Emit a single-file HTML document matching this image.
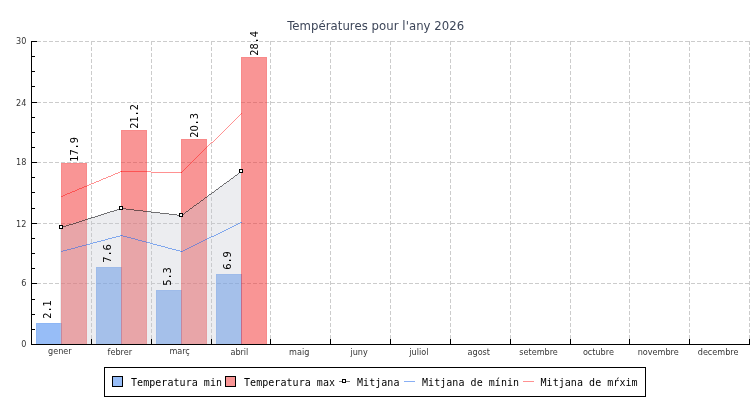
<!DOCTYPE html><html><head><meta charset="utf-8"><title>Temperatures</title><style>
html,body{margin:0;padding:0;background:#fff;}
body{width:750px;height:400px;overflow:hidden;}
svg{display:block;will-change:transform;}
.t{font-family:"DejaVu Sans Condensed","DejaVu Sans",sans-serif;font-stretch:condensed;}
.m{font-family:"DejaVu Sans Mono","Liberation Mono",monospace;}
</style></head><body>
<svg width="750" height="400" viewBox="0 0 750 400">
<rect x="0" y="0" width="750" height="400" fill="#fff"/>
<text class="t" x="375.8" y="29.6" text-anchor="middle" font-size="13" letter-spacing="0.05" fill="#3d4659">Températures pour l'any 2026</text>
<g shape-rendering="crispEdges" stroke="#cccccc" stroke-width="1" stroke-dasharray="4 2" fill="none">
<line x1="31" y1="41.5" x2="750" y2="41.5"/>
<line x1="31" y1="102.5" x2="750" y2="102.5"/>
<line x1="31" y1="162.5" x2="750" y2="162.5"/>
<line x1="31" y1="223.5" x2="750" y2="223.5"/>
<line x1="31" y1="283.5" x2="750" y2="283.5"/>
<line x1="91.5" y1="41" x2="91.5" y2="344"/>
<line x1="151.5" y1="41" x2="151.5" y2="344"/>
<line x1="211.5" y1="41" x2="211.5" y2="344"/>
<line x1="270.5" y1="41" x2="270.5" y2="344"/>
<line x1="330.5" y1="41" x2="330.5" y2="344"/>
<line x1="390.5" y1="41" x2="390.5" y2="344"/>
<line x1="450.5" y1="41" x2="450.5" y2="344"/>
<line x1="510.5" y1="41" x2="510.5" y2="344"/>
<line x1="570.5" y1="41" x2="570.5" y2="344"/>
<line x1="629.5" y1="41" x2="629.5" y2="344"/>
<line x1="689.5" y1="41" x2="689.5" y2="344"/>
<line x1="749.5" y1="41" x2="749.5" y2="344"/>
</g>
<g shape-rendering="crispEdges">
<rect x="36" y="323" width="26" height="21" fill="rgba(55,128,240,0.52)"/>
<rect x="36.5" y="323.5" width="25" height="21" fill="none" stroke="rgba(55,128,240,0.1)"/>
<rect x="61" y="163" width="26" height="181" fill="rgba(243,51,51,0.52)"/>
<rect x="61.5" y="163.5" width="25" height="181" fill="none" stroke="rgba(243,51,51,0.1)"/>
<rect x="96" y="267" width="26" height="77" fill="rgba(55,128,240,0.52)"/>
<rect x="96.5" y="267.5" width="25" height="77" fill="none" stroke="rgba(55,128,240,0.1)"/>
<rect x="121" y="130" width="26" height="214" fill="rgba(243,51,51,0.52)"/>
<rect x="121.5" y="130.5" width="25" height="214" fill="none" stroke="rgba(243,51,51,0.1)"/>
<rect x="156" y="290" width="26" height="54" fill="rgba(55,128,240,0.52)"/>
<rect x="156.5" y="290.5" width="25" height="54" fill="none" stroke="rgba(55,128,240,0.1)"/>
<rect x="181" y="139" width="26" height="205" fill="rgba(243,51,51,0.52)"/>
<rect x="181.5" y="139.5" width="25" height="205" fill="none" stroke="rgba(243,51,51,0.1)"/>
<rect x="216" y="274" width="26" height="70" fill="rgba(55,128,240,0.52)"/>
<rect x="216.5" y="274.5" width="25" height="70" fill="none" stroke="rgba(55,128,240,0.1)"/>
<rect x="241" y="57" width="26" height="287" fill="rgba(243,51,51,0.52)"/>
<rect x="241.5" y="57.5" width="25" height="287" fill="none" stroke="rgba(243,51,51,0.1)"/>
<polygon points="60,344 60,227 121,208 181,215 241,171 241,344" fill="rgba(196,199,208,0.32)"/>
</g>
<path d="M61 227h2v1h-2zM63 226h3v1h-3zM66 225h3v1h-3zM69 224h4v1h-4zM73 223h3v1h-3zM76 222h3v1h-3zM79 221h3v1h-3zM82 220h3v1h-3zM85 219h3v1h-3zM88 218h3v1h-3zM91 217h4v1h-4zM95 216h3v1h-3zM98 215h3v1h-3zM101 214h3v1h-3zM104 213h3v1h-3zM107 212h3v1h-3zM110 211h4v1h-4zM114 210h3v1h-3zM117 209h3v1h-3zM120 208h2v1h-2z" fill="rgba(0,0,0,0.52)" shape-rendering="crispEdges"/>
<path d="M121 208h5v1h-5zM126 209h8v1h-8zM134 210h9v1h-9zM143 211h8v1h-8zM151 212h9v1h-9zM160 213h9v1h-9zM169 214h8v1h-8zM177 215h5v1h-5z" fill="rgba(0,0,0,0.52)" shape-rendering="crispEdges"/>
<path d="M181 215h1v1h-1zM182 214h2v1h-2zM184 213h1v1h-1zM185 212h1v1h-1zM186 211h2v1h-2zM188 210h1v1h-1zM189 209h1v1h-1zM190 208h2v1h-2zM192 207h1v1h-1zM193 206h1v1h-1zM194 205h2v1h-2zM196 204h1v1h-1zM197 203h2v1h-2zM199 202h1v1h-1zM200 201h1v1h-1zM201 200h2v1h-2zM203 199h1v1h-1zM204 198h1v1h-1zM205 197h2v1h-2zM207 196h1v1h-1zM208 195h1v1h-1zM209 194h2v1h-2zM211 193h1v1h-1zM212 192h2v1h-2zM214 191h1v1h-1zM215 190h1v1h-1zM216 189h2v1h-2zM218 188h1v1h-1zM219 187h1v1h-1zM220 186h2v1h-2zM222 185h1v1h-1zM223 184h1v1h-1zM224 183h2v1h-2zM226 182h1v1h-1zM227 181h2v1h-2zM229 180h1v1h-1zM230 179h1v1h-1zM231 178h2v1h-2zM233 177h1v1h-1zM234 176h1v1h-1zM235 175h2v1h-2zM237 174h1v1h-1zM238 173h1v1h-1zM239 172h2v1h-2zM241 171h1v1h-1z" fill="rgba(0,0,0,0.52)" shape-rendering="crispEdges"/>
<path d="M61 251h2v1h-2zM63 250h4v1h-4zM67 249h4v1h-4zM71 248h4v1h-4zM75 247h3v1h-3zM78 246h4v1h-4zM82 245h4v1h-4zM86 244h4v1h-4zM90 243h3v1h-3zM93 242h4v1h-4zM97 241h4v1h-4zM101 240h4v1h-4zM105 239h3v1h-3zM108 238h4v1h-4zM112 237h4v1h-4zM116 236h4v1h-4zM120 235h2v1h-2z" fill="rgba(40,110,235,0.55)" shape-rendering="crispEdges"/>
<path d="M121 235h2v1h-2zM123 236h4v1h-4zM127 237h4v1h-4zM131 238h4v1h-4zM135 239h3v1h-3zM138 240h4v1h-4zM142 241h4v1h-4zM146 242h4v1h-4zM150 243h3v1h-3zM153 244h4v1h-4zM157 245h4v1h-4zM161 246h4v1h-4zM165 247h3v1h-3zM168 248h4v1h-4zM172 249h4v1h-4zM176 250h4v1h-4zM180 251h2v1h-2z" fill="rgba(40,110,235,0.55)" shape-rendering="crispEdges"/>
<path d="M181 251h2v1h-2zM183 250h2v1h-2zM185 249h2v1h-2zM187 248h2v1h-2zM189 247h2v1h-2zM191 246h2v1h-2zM193 245h2v1h-2zM195 244h2v1h-2zM197 243h2v1h-2zM199 242h2v1h-2zM201 241h2v1h-2zM203 240h2v1h-2zM205 239h2v1h-2zM207 238h2v1h-2zM209 237h2v1h-2zM211 236h3v1h-3zM214 235h2v1h-2zM216 234h2v1h-2zM218 233h2v1h-2zM220 232h2v1h-2zM222 231h2v1h-2zM224 230h2v1h-2zM226 229h2v1h-2zM228 228h2v1h-2zM230 227h2v1h-2zM232 226h2v1h-2zM234 225h2v1h-2zM236 224h2v1h-2zM238 223h2v1h-2zM240 222h2v1h-2z" fill="rgba(40,110,235,0.55)" shape-rendering="crispEdges"/>
<path d="M61 196h2v1h-2zM63 195h2v1h-2zM65 194h2v1h-2zM67 193h3v1h-3zM70 192h2v1h-2zM72 191h3v1h-3zM75 190h2v1h-2zM77 189h2v1h-2zM79 188h3v1h-3zM82 187h2v1h-2zM84 186h3v1h-3zM87 185h2v1h-2zM89 184h2v1h-2zM91 183h3v1h-3zM94 182h2v1h-2zM96 181h3v1h-3zM99 180h2v1h-2zM101 179h2v1h-2zM103 178h3v1h-3zM106 177h2v1h-2zM108 176h3v1h-3zM111 175h2v1h-2zM113 174h2v1h-2zM115 173h3v1h-3zM118 172h2v1h-2zM120 171h2v1h-2z" fill="rgba(255,0,0,0.43)" shape-rendering="crispEdges"/>
<path d="M121 171h30v1h-30zM151 172h31v1h-31z" fill="rgba(255,0,0,0.43)" shape-rendering="crispEdges"/>
<path d="M181 172h1v1h-1zM182 171h1v1h-1zM183 170h1v1h-1zM184 169h1v1h-1zM185 168h1v1h-1zM186 167h1v1h-1zM187 166h1v1h-1zM188 165h1v1h-1zM189 164h1v1h-1zM190 163h1v1h-1zM191 162h1v1h-1zM192 161h1v1h-1zM193 160h1v1h-1zM194 159h1v1h-1zM195 158h1v1h-1zM196 157h1v1h-1zM197 156h1v1h-1zM198 155h1v1h-1zM199 154h1v1h-1zM200 153h1v1h-1zM201 152h1v1h-1zM202 151h1v1h-1zM203 150h1v1h-1zM204 149h1v1h-1zM205 148h1v1h-1zM206 147h1v1h-1zM207 146h1v1h-1zM208 145h1v1h-1zM209 144h1v1h-1zM210 143h1v1h-1zM211 142h2v1h-2zM213 141h1v1h-1zM214 140h1v1h-1zM215 139h1v1h-1zM216 138h1v1h-1zM217 137h1v1h-1zM218 136h1v1h-1zM219 135h1v1h-1zM220 134h1v1h-1zM221 133h1v1h-1zM222 132h1v1h-1zM223 131h1v1h-1zM224 130h1v1h-1zM225 129h1v1h-1zM226 128h1v1h-1zM227 127h1v1h-1zM228 126h1v1h-1zM229 125h1v1h-1zM230 124h1v1h-1zM231 123h1v1h-1zM232 122h1v1h-1zM233 121h1v1h-1zM234 120h1v1h-1zM235 119h1v1h-1zM236 118h1v1h-1zM237 117h1v1h-1zM238 116h1v1h-1zM239 115h1v1h-1zM240 114h1v1h-1zM241 113h1v1h-1z" fill="rgba(255,0,0,0.43)" shape-rendering="crispEdges"/>
<g shape-rendering="crispEdges" fill="#fff" stroke="#000">
<rect x="59.5" y="225.5" width="3" height="3"/>
<rect x="119.5" y="206.5" width="3" height="3"/>
<rect x="179.5" y="213.5" width="3" height="3"/>
<rect x="239.5" y="169.5" width="3" height="3"/>
</g>
<g shape-rendering="crispEdges" stroke="#000" stroke-width="1">
<line x1="31.5" y1="41" x2="31.5" y2="345"/>
<line x1="31" y1="344.5" x2="750" y2="344.5"/>
<line x1="31" y1="41.5" x2="37" y2="41.5"/>
<line x1="31" y1="102.5" x2="37" y2="102.5"/>
<line x1="31" y1="162.5" x2="37" y2="162.5"/>
<line x1="31" y1="223.5" x2="37" y2="223.5"/>
<line x1="31" y1="283.5" x2="37" y2="283.5"/>
<line x1="31" y1="344.5" x2="37" y2="344.5"/>
<line x1="31" y1="329.5" x2="35" y2="329.5"/>
<line x1="31" y1="314.5" x2="35" y2="314.5"/>
<line x1="31" y1="299.5" x2="35" y2="299.5"/>
<line x1="31" y1="268.5" x2="35" y2="268.5"/>
<line x1="31" y1="253.5" x2="35" y2="253.5"/>
<line x1="31" y1="238.5" x2="35" y2="238.5"/>
<line x1="31" y1="208.5" x2="35" y2="208.5"/>
<line x1="31" y1="192.5" x2="35" y2="192.5"/>
<line x1="31" y1="177.5" x2="35" y2="177.5"/>
<line x1="31" y1="147.5" x2="35" y2="147.5"/>
<line x1="31" y1="132.5" x2="35" y2="132.5"/>
<line x1="31" y1="117.5" x2="35" y2="117.5"/>
<line x1="31" y1="86.5" x2="35" y2="86.5"/>
<line x1="31" y1="71.5" x2="35" y2="71.5"/>
<line x1="31" y1="56.5" x2="35" y2="56.5"/>
<line x1="91.5" y1="339" x2="91.5" y2="344"/>
<line x1="151.5" y1="339" x2="151.5" y2="344"/>
<line x1="211.5" y1="339" x2="211.5" y2="344"/>
<line x1="270.5" y1="339" x2="270.5" y2="344"/>
<line x1="330.5" y1="339" x2="330.5" y2="344"/>
<line x1="390.5" y1="339" x2="390.5" y2="344"/>
<line x1="450.5" y1="339" x2="450.5" y2="344"/>
<line x1="510.5" y1="339" x2="510.5" y2="344"/>
<line x1="570.5" y1="339" x2="570.5" y2="344"/>
<line x1="629.5" y1="339" x2="629.5" y2="344"/>
<line x1="689.5" y1="339" x2="689.5" y2="344"/>
<line x1="749.5" y1="339" x2="749.5" y2="344"/>
</g>
<text class="t" x="26.3" y="43.5" text-anchor="end" font-size="9" fill="#353535">30</text>
<text class="t" x="26.3" y="105.5" text-anchor="end" font-size="9" fill="#353535">24</text>
<text class="t" x="26.3" y="164.5" text-anchor="end" font-size="9" fill="#353535">18</text>
<text class="t" x="26.3" y="226.5" text-anchor="end" font-size="9" fill="#353535">12</text>
<text class="t" x="26.3" y="285.5" text-anchor="end" font-size="9" fill="#353535">6</text>
<text class="t" x="26.3" y="346.5" text-anchor="end" font-size="9" fill="#353535">0</text>
<text class="t" x="59.9" y="354" text-anchor="middle" font-size="9" fill="#353535">gener</text>
<text class="t" x="119.8" y="355" text-anchor="middle" font-size="9" fill="#353535">febrer</text>
<text class="t" x="179.6" y="354" text-anchor="middle" font-size="9" fill="#353535">març</text>
<text class="t" x="239.4" y="355" text-anchor="middle" font-size="9" fill="#353535">abril</text>
<text class="t" x="299.2" y="355" text-anchor="middle" font-size="9" fill="#353535">maig</text>
<text class="t" x="359.1" y="355" text-anchor="middle" font-size="9" fill="#353535">juny</text>
<text class="t" x="418.9" y="355" text-anchor="middle" font-size="9" fill="#353535">juliol</text>
<text class="t" x="478.8" y="355" text-anchor="middle" font-size="9" fill="#353535">agost</text>
<text class="t" x="538.6" y="355" text-anchor="middle" font-size="9" fill="#353535">setembre</text>
<text class="t" x="598.4" y="355" text-anchor="middle" font-size="9" fill="#353535">octubre</text>
<text class="t" x="658.2" y="355" text-anchor="middle" font-size="9" fill="#353535">novembre</text>
<text class="t" x="718.1" y="355" text-anchor="middle" font-size="9" fill="#353535">decembre</text>
<text class="t" transform="translate(51,318.6) rotate(-90)" x="-0.07 7.08 12.23" font-size="11" fill="#000">2<tspan font-size="15">.</tspan>1</text>
<text class="t" transform="translate(78,161.6) rotate(-90)" x="-0.07 6.08 13.23 18.38" font-size="11" fill="#000">17<tspan font-size="15">.</tspan>9</text>
<text class="t" transform="translate(111,262.6) rotate(-90)" x="-0.07 7.08 12.23" font-size="11" fill="#000">7<tspan font-size="15">.</tspan>6</text>
<text class="t" transform="translate(138,128.6) rotate(-90)" x="-0.07 6.08 13.23 18.38" font-size="11" fill="#000">21<tspan font-size="15">.</tspan>2</text>
<text class="t" transform="translate(171,285.6) rotate(-90)" x="-0.07 7.08 12.23" font-size="11" fill="#000">5<tspan font-size="15">.</tspan>3</text>
<text class="t" transform="translate(198,137.6) rotate(-90)" x="-0.07 6.08 13.23 18.38" font-size="11" fill="#000">20<tspan font-size="15">.</tspan>3</text>
<text class="t" transform="translate(231,269.6) rotate(-90)" x="-0.07 7.08 12.23" font-size="11" fill="#000">6<tspan font-size="15">.</tspan>9</text>
<text class="t" transform="translate(258,55.6) rotate(-90)" x="-0.07 6.08 13.23 18.38" font-size="11" fill="#000">28<tspan font-size="15">.</tspan>4</text>
<g shape-rendering="crispEdges">
<rect x="104.5" y="367.5" width="541" height="29" fill="#fff" stroke="#000"/>
<rect x="112.5" y="376.5" width="10" height="10" fill="#97bdf7" stroke="#000"/>
<rect x="225.5" y="376.5" width="10" height="10" fill="#f99595" stroke="#000"/>
<line x1="339" y1="381.5" x2="350" y2="381.5" stroke="rgba(0,0,0,0.52)"/>
<rect x="342.5" y="379.5" width="3" height="3" fill="#fff" stroke="#000"/>
<line x1="404" y1="381.5" x2="415" y2="381.5" stroke="rgba(40,110,235,0.55)"/>
<line x1="523" y1="381.5" x2="534" y2="381.5" stroke="rgba(255,0,0,0.43)"/>
</g>
<text class="m" x="131" y="386" font-size="10" letter-spacing="0.05" fill="#000">Temperatura min</text>
<text class="m" x="244" y="386" font-size="10" letter-spacing="0.05" fill="#000">Temperatura max</text>
<text class="m" x="357" y="386" font-size="10" letter-spacing="0.05" fill="#000">Mitjana</text>
<text class="m" x="422" y="386" font-size="10" letter-spacing="0.05" fill="#000">Mitjana de mínin</text>
<text class="m" x="540.5" y="386" font-size="10" letter-spacing="0.05" fill="#000">Mitjana de mŕxim</text>
</svg></body></html>
